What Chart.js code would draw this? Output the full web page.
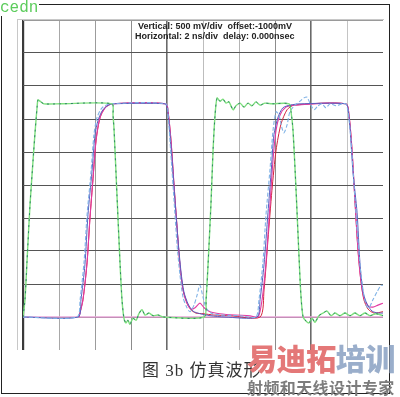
<!DOCTYPE html>
<html>
<head>
<meta charset="utf-8">
<script src="https://cdn.jsdelivr.net/npm/chart.js@4.4.0/dist/chart.umd.min.js"></script>
<style>
  html, body { margin:0; padding:0; background:#fff; }
  #wrap { position:relative; width:400px; height:397px; overflow:hidden; background:#fff; }
  #c { position:absolute; left:0; top:0; }
  .abs { position:absolute; white-space:nowrap; }
  #frame { left:1px; top:4px; width:387px; height:388px; border:1px solid #222; }
  #inner { left:17px; top:19px; width:366px; height:330px; border-left:1px solid #c8c8c8; border-top:1px solid #c8c8c8; }
  #cedn { left:0; top:0; font:16px "Liberation Mono", monospace; color:#5ccc5c; background:#fff; line-height:16px; padding-right:1px; }
  .hdr { font:bold 9px "Liberation Sans Narrow", "Liberation Sans", sans-serif; color:#222; line-height:10px; }
  #cap { left:142px; top:361px; font:17px "Liberation Serif", "Noto Sans CJK SC", serif; color:#333; line-height:19px; letter-spacing:1px; }
  #wm1 { left:247px; top:341px; font:900 30px "Noto Sans CJK SC", sans-serif; line-height:32px; letter-spacing:-0.4px; }
  #wm2 { left:247px; top:379px; font:bold 16px "Noto Sans CJK SC", sans-serif; color:#7c7c7c; line-height:17px; letter-spacing:0.4px; }
</style>
</head>
<body>
<div id="wrap">
  <canvas id="c" width="400" height="397"></canvas>
  <div id="frame" class="abs"></div>
  <div id="inner" class="abs"></div>
  <div id="cedn" class="abs">cedn</div>
  <div class="abs hdr" style="left:138px; top:21px;">Vertical: 500 mV/div&nbsp; offset:-1000mV</div>
  <div class="abs hdr" style="left:135px; top:31px;">Horizontal: 2 ns/div&nbsp; delay: 0.000nsec</div>
  <div id="cap" class="abs">图 3b 仿真波形</div>
  <div id="wm1" class="abs"><span style="color:#e47878">易迪拓</span><span style="color:#9aaecb">培训</span></div>
  <div id="wm2" class="abs">射频和天线设计专家</div>
</div>
<script>
// time axis (ns) and voltage (V)
const xTicks = [0, 2, 4, 6, 8, 10, 12, 14, 16, 18, 20];
const yTicks = [-0.5, 0, 0.5, 1, 1.5, 2, 2.5, 3, 3.5, 4, 4.5];

const greenT = [0,0.11,0.22,0.39,0.56,0.67,0.78,0.83,0.94,1.17,2.06,4.94,5.0,5.06,5.22,5.39,5.5,5.61,5.72,5.83,5.94,6.11,6.28,6.44,6.61,6.78,7.0,7.22,7.5,7.78,10.06,10.17,10.28,10.44,10.56,10.67,10.78,10.94,11.11,11.28,11.44,11.67,11.83,12.06,12.28,12.5,12.72,12.94,13.17,13.44,13.83,14.78,14.89,15.0,15.17,15.33,15.44,15.56,15.72,15.89,16.06,16.22,16.44,16.67,16.89,17.11,17.33,17.61,17.89,18.17,18.44,18.72,19.0,19.28,19.61,20];
const greenV = [0,0.26,0.83,1.70,2.38,2.80,3.17,3.29,3.27,3.23,3.23,3.23,3.06,2.83,1.85,0.82,0.26,-0.02,-0.09,-0.05,-0.11,-0.02,-0.05,0.05,0.11,0.03,0.06,0.02,0.03,0,0,0.26,0.79,1.70,2.53,3.06,3.32,3.27,3.30,3.24,3.26,3.14,3.20,3.24,3.18,3.24,3.20,3.26,3.21,3.24,3.23,3.23,3.11,2.83,1.92,0.94,0.33,0,-0.06,-0.09,-0.02,-0.08,0.02,0.06,0.09,0.02,0.06,0.02,0.06,0.02,0.06,0.02,0.06,0.02,0.05,0.02];

const navyT = [0,3.06,3.22,3.44,3.61,3.83,4.0,4.17,4.39,4.67,5.0,7.89,8.0,8.11,8.28,8.44,8.61,8.78,8.94,9.17,9.44,9.83,10.39,11.22,13.0,13.17,13.39,13.61,13.78,13.94,14.17,14.44,14.83,15.39,17.94,18.06,18.17,18.33,18.56,18.72,18.89,19.11,19.39,19.72,20];
const navyV = [0,0,0.26,0.79,1.55,2.2,2.76,2.98,3.12,3.2,3.23,3.23,3.17,2.95,2.38,1.77,1.17,0.68,0.38,0.2,0.09,0.05,0.02,0,0,0.26,0.79,1.58,2.18,2.76,3.03,3.17,3.21,3.23,3.23,3.14,2.86,2.2,1.58,0.82,0.38,0.2,0.09,0.06,0.06];

const magT = [3.11,3.33,3.56,3.72,3.89,4.06,4.28,4.56,4.94,7.94,8.06,8.22,8.39,8.56,8.72,8.89,9.11,9.33,9.56,9.83,10.06,10.39,10.94,11.78,12.61,13.06,13.28,13.5,13.72,13.89,14.06,14.28,14.61,15.11,17.94,18.11,18.28,18.44,18.61,18.78,18.94,19.17,19.44,19.72,20];
const magV = [0,0.26,0.83,1.5,2.1,2.68,3.02,3.17,3.23,3.23,3.11,2.68,2.0,1.35,0.79,0.41,0.21,0.12,0.14,0.21,0.14,0.08,0.05,0.03,0.02,0,0.26,0.83,1.7,2.38,2.83,3.06,3.18,3.21,3.23,3.06,2.53,1.77,1.02,0.53,0.29,0.17,0.15,0.18,0.21];

const redT = [3.11,3.33,3.56,3.72,3.89,4.06,4.28,4.56,4.94,7.94,8.06,8.22,8.39,8.56,8.72,8.89,9.11,9.33,9.6,10.0,10.6,11.5,13.17,13.39,13.61,13.83,14.06,14.33,14.67,15.06,17.94,18.11,18.28,18.44,18.61,18.78,18.94,19.17,19.5,20];
const redV = [0,0.26,0.83,1.5,2.1,2.68,3.02,3.17,3.23,3.23,3.11,2.68,2.0,1.35,0.79,0.41,0.21,0.11,0.06,0.05,0.03,0.02,0,0.41,1.17,1.92,2.53,2.92,3.14,3.21,3.23,3.06,2.53,1.77,1.02,0.53,0.26,0.12,0.06,0.08];

const ltBlueT = [0,3.0,3.17,3.39,3.56,3.78,3.94,4.11,4.39,4.83,7.94,8.06,8.22,8.39,8.56,8.72,8.89,9.11,9.28,9.5,9.67,9.83,10.0,10.17,10.44,10.94,12.06,12.94,13.11,13.33,13.5,13.72,13.89,14.06,14.22,14.39,14.5,14.67,14.83,15.11,15.39,15.61,15.78,15.94,16.17,16.39,16.61,16.83,17.06,17.39,17.72,17.94,18.06,18.22,18.39,18.56,18.72,18.89,19.06,19.22,19.44,19.67,19.89,20];
const ltBlueV = [0,0,0.26,0.83,1.55,2.2,2.76,3.02,3.17,3.23,3.23,3.06,2.45,1.77,1.09,0.64,0.3,0.14,0.08,0.18,0.33,0.48,0.3,0.14,0.06,0.03,0.02,0,0.26,0.83,1.55,2.23,2.83,3.11,3.06,2.86,2.79,2.91,3.11,3.21,3.27,3.32,3.33,3.24,3.14,3.2,3.23,3.17,3.23,3.2,3.23,3.23,3.11,2.68,2.0,1.32,0.79,0.41,0.18,0.14,0.26,0.38,0.48,0.48];

const baseT = [0, 20];
const baseV = [0, 0];

function pts(t, v) { return t.map((x, i) => ({ x: x, y: v[i] })); }

const xGridColor = {0:'#3a3a3a',2:'#a8a8a8',4:'#9c9c9c',6:'#8c8c8c',8:'#6a6a6a',10:'#bdbdbd',12:'#b4b4b4',14:'#8c8c8c',16:'#6a6a6a',18:'#c4c4c4',20:'rgba(0,0,0,0)'};
const xGridWidth = {0:2.2,8:1.6,16:1.6};

const line = (data, color, w, dash) => ({
  data: data, borderColor: color, borderWidth: w, borderDash: dash || [],
  pointRadius: 0, tension: 0.25, fill: false, cubicInterpolationMode: 'default'
});

new Chart(document.getElementById('c'), {
  type: 'line',
  data: {
    datasets: [
      line(pts(greenT, greenV), '#2f8466', 1.0, [2, 4]),
      line(pts(greenT, greenV), '#7ee07e', 1.4),
      line(pts(ltBlueT, ltBlueV), '#7fb2e6', 1.1, [4, 2]),
      line(pts(navyT, navyV), '#5a5fc0', 1.0),
      line(pts(magT, magV), '#e23aa2', 1.1),
      line(pts(redT, redV), '#d4243c', 1.0),
      line(pts(baseT, baseV), '#e8a6d8', 1.3)
    ]
  },
  options: {
    responsive: false,
    devicePixelRatio: 1,
    animation: false,
    events: [],
    layout: { padding: { left: 23, top: 20, right: 17, bottom: 47 } },
    plugins: { legend: { display: false }, tooltip: { enabled: false } },
    scales: {
      x: {
        type: 'linear', min: 0, max: 20,
        afterBuildTicks: (s) => { s.ticks = xTicks.map(v => ({ value: v })); },
        ticks: { display: false },
        border: { display: false },
        grid: {
          drawTicks: false,
          color: (c) => xGridColor[c.tick.value] || '#aaa',
          lineWidth: (c) => xGridWidth[c.tick.value] || 1
        }
      },
      y: {
        type: 'linear', min: -0.5, max: 4.5,
        afterBuildTicks: (s) => { s.ticks = yTicks.map(v => ({ value: v })); },
        ticks: { display: false },
        border: { display: false },
        grid: {
          drawTicks: false,
          color: (c) => c.tick.value === -0.5 ? 'rgba(0,0,0,0)' : (c.tick.value === 4.5 ? '#9a9a9a' : '#555'),
          lineWidth: 1
        }
      }
    }
  }
});
</script>
</body>
</html>
